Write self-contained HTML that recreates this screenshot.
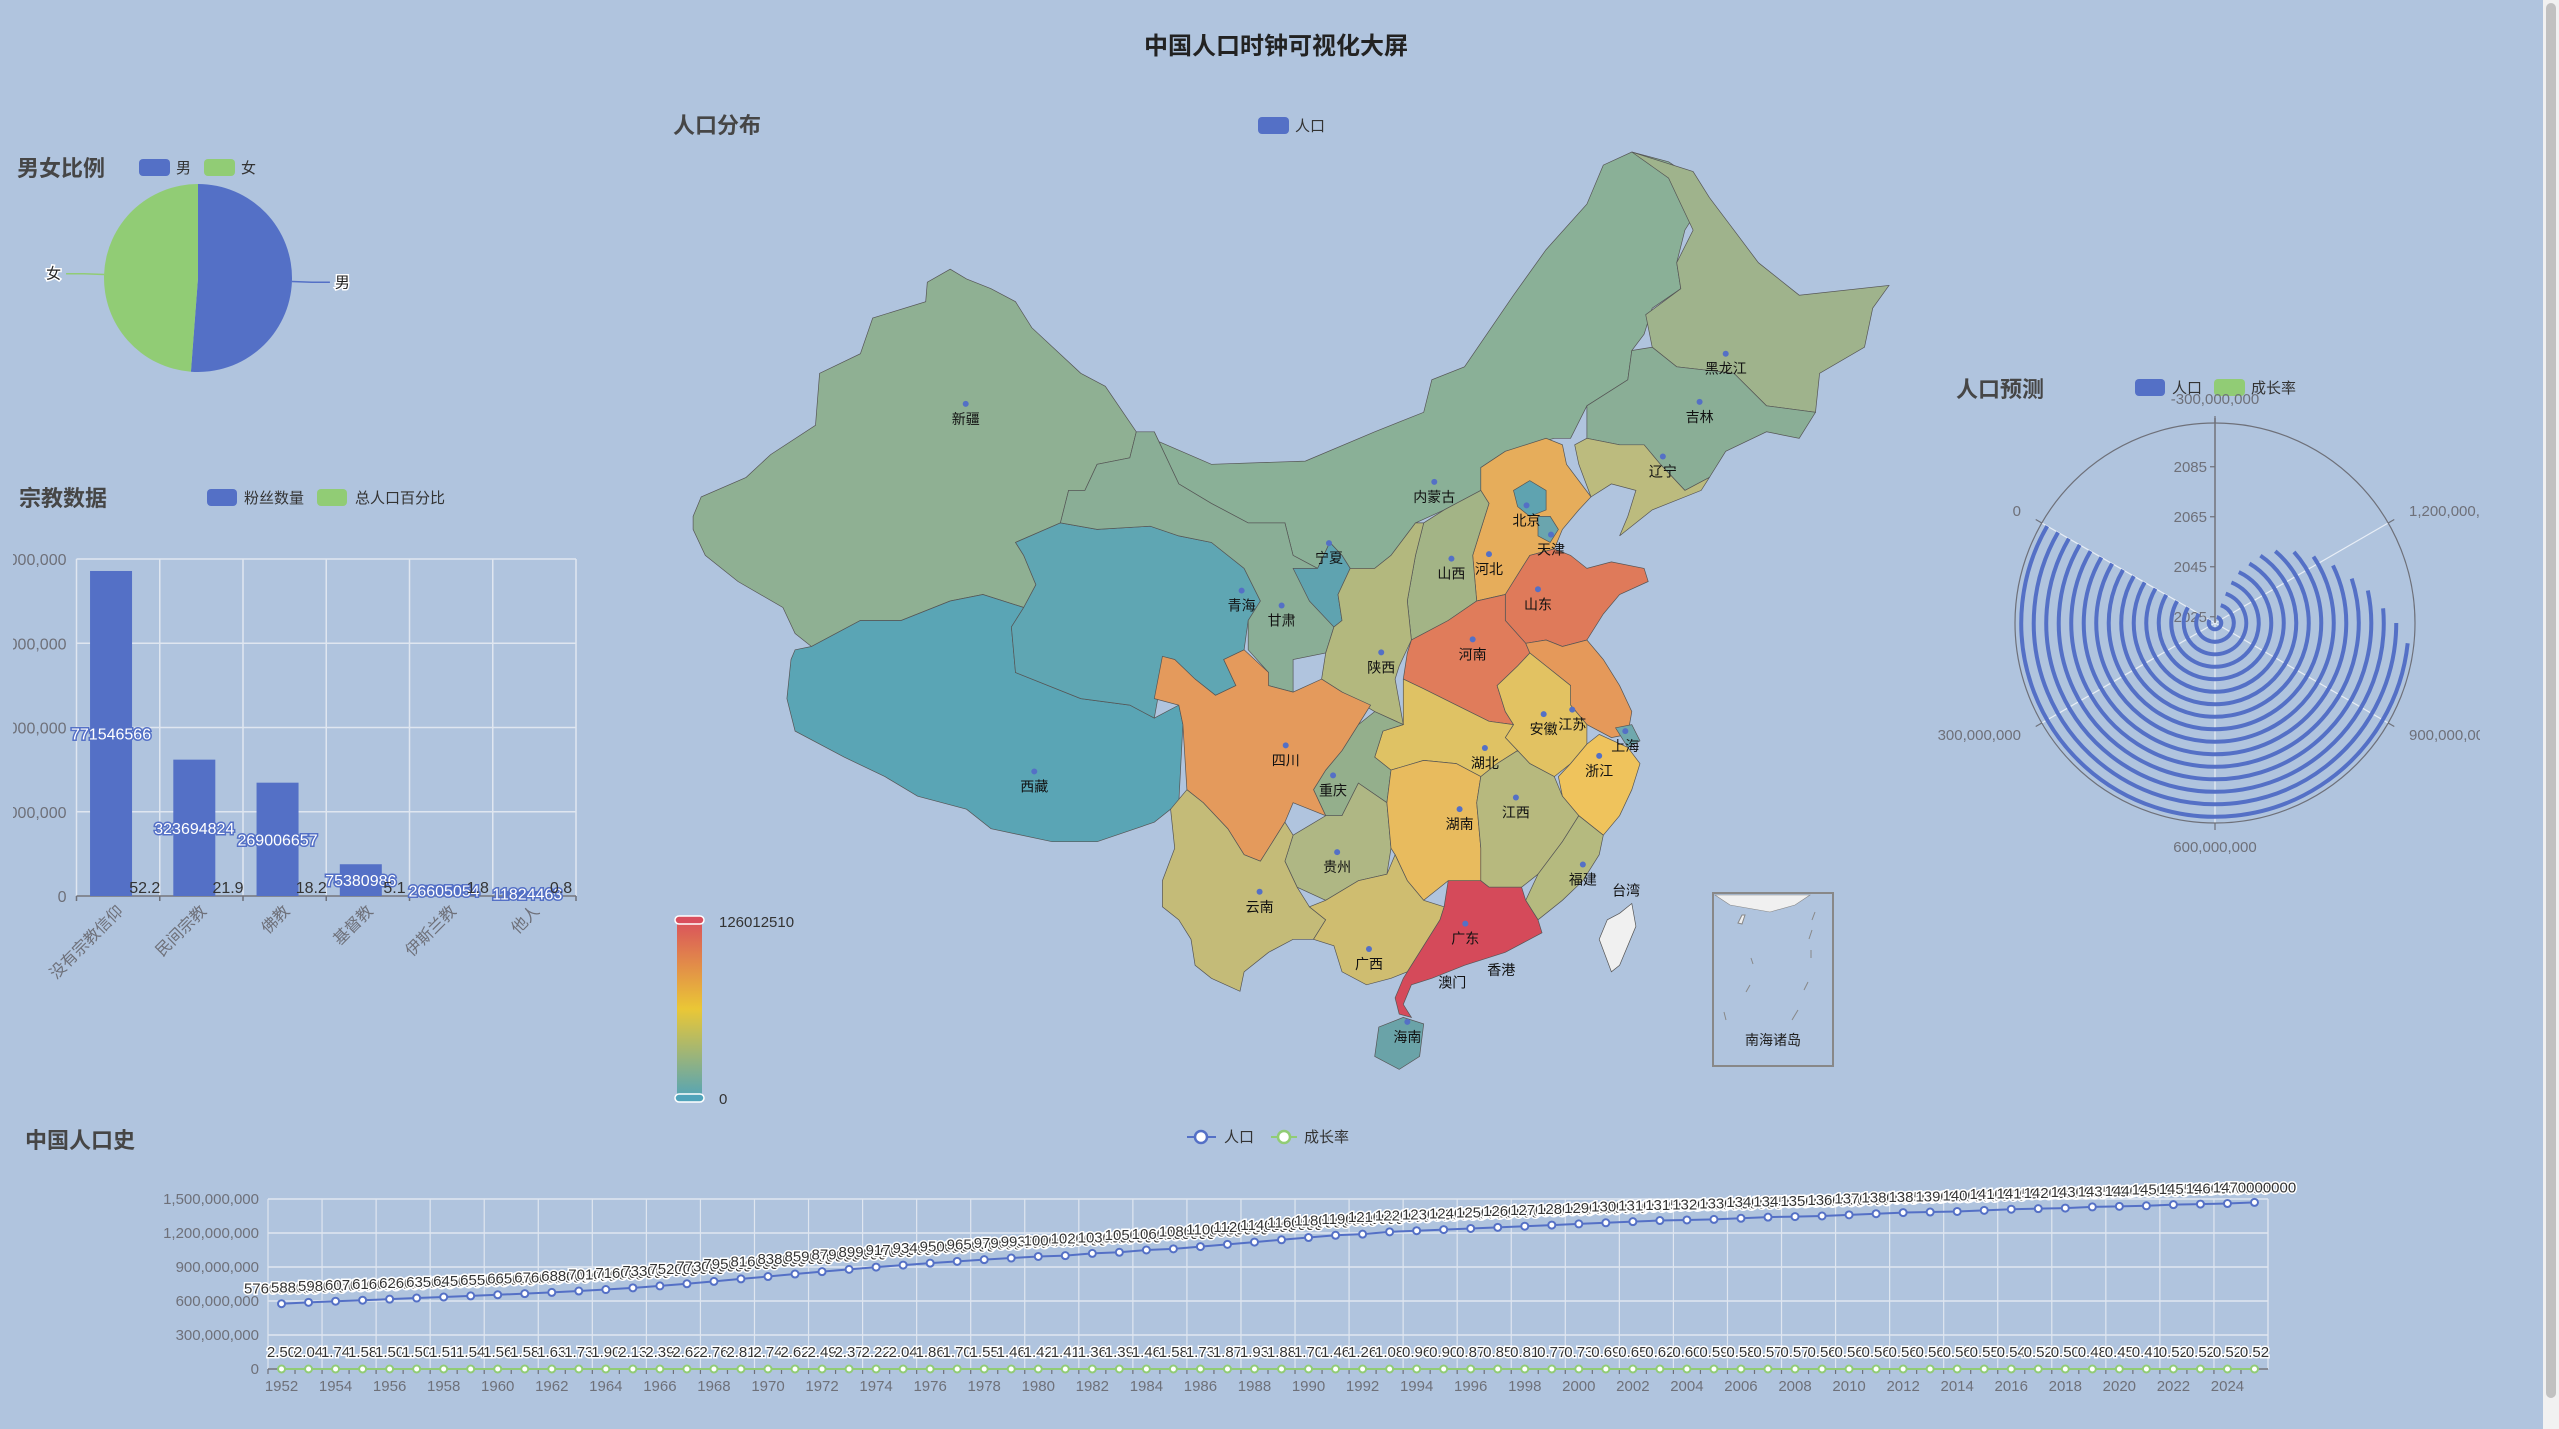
<!DOCTYPE html>
<html><head><meta charset="utf-8">
<style>
html,body{margin:0;padding:0;background:#b0c4de;overflow:hidden;}
svg{display:block;font-family:"Liberation Sans","Noto Sans CJK SC",sans-serif;}
</style></head>
<body>
<svg id="s" width="2559" height="1429" viewBox="0 0 2559 1429" xmlns="http://www.w3.org/2000/svg">
<defs>
<linearGradient id="vm" x1="0" y1="0" x2="0" y2="1">
<stop offset="0" stop-color="#d94e5d"/><stop offset="0.5" stop-color="#eac736"/><stop offset="1" stop-color="#50a3ba"/>
</linearGradient>
<clipPath id="barclip"><rect x="13" y="430" width="620" height="600"/></clipPath>
<clipPath id="polclip"><rect x="1900" y="340" width="580" height="540"/></clipPath>
</defs>
<rect x="0" y="0" width="2559" height="1429" fill="#b0c4de"/>
<text x="1276" y="54" text-anchor="middle" font-size="24" font-weight="bold" fill="#222">中国人口时钟可视化大屏</text>

<!-- pie -->
<g id="pie">
<text x="17" y="176" font-size="22" font-weight="bold" fill="#464646">男女比例</text>
<rect x="139" y="159" width="31" height="17" rx="4" fill="#5470c6"/>
<text x="176" y="173" font-size="15" fill="#333">男</text>
<rect x="204" y="159" width="31" height="17" rx="4" fill="#91cc75"/>
<text x="241" y="173" font-size="15" fill="#333">女</text>
</g>

<!-- bar -->
<g id="bar">
<text x="19" y="506" font-size="22" font-weight="bold" fill="#464646">宗教数据</text>
<rect x="207" y="489" width="30" height="17" rx="4" fill="#5470c6"/>
<text x="244" y="503" font-size="15" fill="#333">粉丝数量</text>
<rect x="317" y="489" width="30" height="17" rx="4" fill="#91cc75"/>
<text x="355" y="503" font-size="15" fill="#333">总人口百分比</text>
<g id="barplot" clip-path="url(#barclip)"></g>
</g>

<!-- map -->
<g id="map">
<text x="673" y="133" font-size="22" font-weight="bold" fill="#464646">人口分布</text>
<rect x="1258" y="117" width="31" height="17" rx="4" fill="#5470c6"/>
<text x="1295" y="131" font-size="15" fill="#333">人口</text>
<g id="provinces"></g>
<g id="maplabels"></g>
<rect x="1713" y="893" width="120" height="173" fill="none" stroke="#888" stroke-width="2"/>
<path d="M1715 895 L1810 895 L1795 905 L1770 912 L1730 905 Z" fill="#f0f0f0" stroke="#888" stroke-width="0.6"/>
<path d="M1738 923 l4 -8 l3 0 l-3 9 Z M1751 958 l2 6 M1815 912 l-3 8 M1812 930 l-3 9 M1811 950 l0 8 M1750 985 l-4 7 M1808 982 l-4 8 M1798 1010 l-6 10 M1724 1012 l2 8" stroke="#888" fill="#f0f0f0" stroke-width="1"/>
<text x="1773" y="1045" font-size="14" text-anchor="middle" fill="#222">南海诸岛</text>
<rect x="677" y="918" width="25" height="182" rx="5" fill="url(#vm)"/>
<rect x="675" y="916" width="29" height="8" rx="4" fill="#d94e5d" stroke="#fff" stroke-width="1.5"/>
<rect x="675" y="1094" width="29" height="8" rx="4" fill="#50a3ba" stroke="#fff" stroke-width="1.5"/>
<text x="719" y="927" font-size="15" fill="#333">126012510</text>
<text x="719" y="1104" font-size="15" fill="#333">0</text>
</g>

<!-- polar -->
<g id="polar">
<text x="1956" y="397" font-size="22" font-weight="bold" fill="#464646">人口预测</text>
<rect x="2135" y="379" width="30" height="17" rx="4" fill="#5470c6"/>
<text x="2172" y="393" font-size="15" fill="#333">人口</text>
<rect x="2214" y="379" width="31" height="17" rx="4" fill="#91cc75"/>
<text x="2251" y="393" font-size="15" fill="#333">成长率</text>
<g id="polarplot" clip-path="url(#polclip)"></g>
</g>

<!-- line -->
<g id="line">
<text x="25" y="1148" font-size="22" font-weight="bold" fill="#464646">中国人口史</text>
<line x1="1187" y1="1137" x2="1216" y2="1137" stroke="#5470c6" stroke-width="2"/>
<circle cx="1201" cy="1137" r="6" fill="#fff" stroke="#5470c6" stroke-width="2.5"/>
<text x="1224" y="1142" font-size="15" fill="#333">人口</text>
<line x1="1271" y1="1137" x2="1297" y2="1137" stroke="#91cc75" stroke-width="2"/>
<circle cx="1284" cy="1137" r="6" fill="#fff" stroke="#91cc75" stroke-width="2.5"/>
<text x="1304" y="1142" font-size="15" fill="#333">成长率</text>
<g id="lineplot"></g>
</g>

<rect x="2543" y="0" width="16" height="1429" fill="#f1f1f1"/>
<rect x="2546" y="3" width="10" height="1395" rx="5" fill="#c1c1c1"/>
</svg>
<script>
var NS="http://www.w3.org/2000/svg";
function mk(tag,parent,attrs){var e=document.createElementNS(NS,tag);for(var k in attrs)e.setAttribute(k,attrs[k]);parent.appendChild(e);return e;}

/* ---------- pie data ---------- */
var pieLabels=['男','女'];
var pieValues=[51.2,48.8];
var pieColors=['#5470c6','#91cc75'];
/* ---------- bar data ---------- */
var barCategories=['没有宗教信仰','民间宗教','佛教','基督教','伊斯兰教','他人'];
var barFans=[771546566,323694824,269006657,75380986,26605054,11824463];
var barPercent=[52.2,21.9,18.2,5.1,1.8,0.8];
var barTicks=[0,200000000,400000000,600000000,800000000];
/* ---------- polar data ---------- */
var polarYears=['2025','2030','2035','2040','2045','2050','2055','2060','2065','2070','2075','2080','2085','2090','2095','2100'];
var polarPop=[1420000000,1410000000,1400000000,1390000000,1375000000,1350000000,1330000000,1300000000,1260000000,1220000000,1180000000,1140000000,1110000000,1075000000,1050000000,1020000000];
var polarAngleTicks=[-300000000,0,300000000,600000000,900000000,1200000000];
/* ---------- line data ---------- */
var lineYears=[];for(var yy=1952;yy<=2025;yy++)lineYears.push(String(yy));
var linePopM=[576,588,598,607,616,626,635,645,655,665,676,688,701,716,733,752,773,795,816,838,859,879,899,917,934,950,965,979,
993,1000,1020,1030,1050,1060,1080,1100,1120,1140,1160,1180,1190,1210,1220,1230,1240,1250,1260,1270,1280,1290,1300,1310,1315,1320,1330,1340,1345,1350,1360,1370,1380,1385,1390,1400,1410,1415,1420,1430,1435,1440,1450,1455,1460,1470];
var lineGrowth=[2.50,2.04,1.74,1.58,1.50,1.50,1.51,1.54,1.56,1.58,1.63,1.73,1.90,2.13,2.39,2.62,2.76,2.81,2.74,2.62,2.49,2.37,2.22,2.04,1.86,1.70,1.55,
1.46,1.42,1.41,1.36,1.39,1.46,1.58,1.73,1.87,1.93,1.88,1.70,1.46,1.26,1.08,0.96,0.90,0.87,0.85,0.81,0.77,0.73,0.69,0.65,0.62,0.60,0.59,0.58,0.57,0.57,0.56,0.56,0.56,0.56,0.56,0.56,0.55,0.54,0.52,0.50,0.48,0.45,0.41,0.52,0.52,0.52,0.52,0.52];
var lineTicks=[0,300000000,600000000,900000000,1200000000,1500000000];

function fmt(n){return String(n).replace(/\B(?=(\d{3})+(?!\d))/g,',');}

/* ===== PIE ===== */
(function(){
var g=document.getElementById('pie');var cx=198,cy=278,r=94;
var tot=pieValues.reduce(function(a,b){return a+b;},0);var a0=0;
for(var i=0;i<pieValues.length;i++){
 var a1=a0+pieValues[i]/tot*2*Math.PI;
 var x0=cx+r*Math.sin(a0),y0=cy-r*Math.cos(a0),x1=cx+r*Math.sin(a1),y1=cy-r*Math.cos(a1);
 var p=mk('path',g,{d:'M'+cx+' '+cy+' L'+x0+' '+y0+' A'+r+' '+r+' 0 '+((a1-a0)>Math.PI?1:0)+' 1 '+x1+' '+y1+' Z',fill:pieColors[i]});
 
 
 var am=(a0+a1)/2,sx=Math.sin(am),cy2=-Math.cos(am);
 var ex=cx+r*sx,ey=cy+r*cy2,lx=cx+(r+20)*sx,ly=cy+(r+20)*cy2,hx=lx+(sx>0?18:-18);
 var ln=mk('polyline',g,{points:ex+','+ey+' '+lx+','+ly+' '+hx+','+ly,fill:'none',stroke:pieColors[i],'stroke-width':1.5});
 
 
 var t=mk('text',g,{x:hx+(sx>0?5:-5),y:ly+5,'font-size':15,fill:'#222','text-anchor':sx>0?'start':'end',stroke:'#fff','stroke-width':3,'paint-order':'stroke'});
 t.textContent=pieLabels[i];
 
 
 a0=a1;}
})();

/* ===== BAR ===== */
(function(){
var g=document.getElementById('barplot');var L=76.5,R=576,T=559,B=896;var max=barTicks[barTicks.length-1];
function y(v){return B-v/max*(B-T);}
var band=(R-L)/barCategories.length;
barTicks.forEach(function(v){
 var gl=mk('line',g,{x1:L,x2:R,y1:y(v),y2:y(v),stroke:'#dfe6f0','stroke-width':1.5});
 
 
 var t=mk('text',g,{x:L-10,y:y(v)+6,'text-anchor':'end','font-size':16,fill:'#6e7079'});t.textContent=fmt(v);
 
 });
for(var i=0;i<=barCategories.length;i++){
 var vl=mk('line',g,{x1:L+i*band,x2:L+i*band,y1:T,y2:B,stroke:'#dfe6f0','stroke-width':1.5});
 
 
 mk('line',g,{x1:L+i*band,x2:L+i*band,y1:B,y2:B+5,stroke:'#6e7079','stroke-width':1.5});}
mk('line',g,{x1:L,x2:R,y1:B,y2:B,stroke:'#6e7079','stroke-width':1.5});
var bw=42;
barCategories.forEach(function(c,i){
 var c1=L+i*band+band*0.415,c2=L+i*band+band*0.82;
 var b=mk('rect',g,{x:c1-bw/2,y:y(barFans[i]),width:bw,height:B-y(barFans[i]),fill:'#5470c6'});
 
 
 var b2=mk('rect',g,{x:c2-bw/2,y:y(barPercent[i]),width:bw,height:Math.max(0,B-y(barPercent[i])),fill:'#91cc75'});
 
 
 var t=mk('text',g,{x:c1,y:(y(barFans[i])+B)/2+6,'text-anchor':'middle','font-size':16,fill:'#fff',stroke:'#5470c6','stroke-width':3,'paint-order':'stroke'});t.textContent=barFans[i];
 
 
 var t2=mk('text',g,{x:c2,y:y(barPercent[i])-3,'text-anchor':'middle','font-size':16,fill:'#333'});t2.textContent=barPercent[i];
 
 
 var cx=L+i*band+band/2;
 var xl=mk('text',g,{x:cx+6,y:B+16,'text-anchor':'end','font-size':16,fill:'#6e7079',transform:'rotate(-45 '+(cx+6)+' '+(B+16)+')'});xl.textContent=c;
 
 });
})();

/* ===== MAP ===== */
var provinces=[
['新疆','#8fb093','65,640 75,610 130,580 160,545 215,500 220,420 270,390 285,335 350,310 352,280 380,260 400,275 430,290 460,310 480,350 540,420 570,440 608,510 600,550 560,560 545,600 525,600 515,650 460,680 470,700 485,745 470,780 420,760 380,770 320,800 270,800 210,840 190,820 175,780 120,740 80,700 65,660'],
['西藏','#5aa5b5','190,845 210,840 270,800 320,800 380,770 420,760 470,780 455,810 460,880 540,920 600,930 630,950 660,930 665,960 660,1080 630,1110 560,1140 505,1140 430,1120 400,1090 340,1070 300,1040 250,1010 190,970 180,920 185,860'],
['内蒙古','#8ab097','608,510 700,560 815,555 900,510 960,480 970,430 1010,410 1070,300 1110,230 1160,160 1180,100 1215,80 1260,95 1290,120 1300,160 1280,200 1270,250 1275,290 1240,320 1230,360 1215,385 1210,430 1160,470 1140,520 1120,520 1060,540 1030,565 1030,600 985,630 950,650 920,700 900,720 870,720 860,700 845,680 830,720 800,700 790,650 770,650 745,650 700,620 660,590 630,510'],
['黑龙江','#9fb38c','1215,80 1290,110 1310,150 1340,200 1370,250 1420,300 1530,285 1510,320 1500,380 1445,420 1440,480 1380,470 1340,420 1270,410 1240,380 1232,330 1275,290 1270,250 1290,200 1275,160 1260,120'],
['吉林','#8aae96','1215,385 1240,380 1270,410 1340,420 1380,470 1440,480 1420,520 1380,510 1330,540 1310,580 1280,600 1250,560 1230,530 1200,530 1160,520 1160,470 1210,430'],
['辽宁','#bcbb7e','1160,520 1200,530 1230,530 1250,560 1280,600 1310,580 1300,600 1240,630 1200,670 1210,640 1220,600 1190,590 1165,610 1150,560 1145,530'],
['青海','#5fa6b3','470,780 485,745 470,700 460,680 515,650 560,660 625,655 660,670 700,680 740,720 760,770 745,800 740,845 715,860 730,900 705,915 680,890 640,880 630,950 600,930 540,920 460,880 455,810'],
['甘肃','#8aae96','515,650 525,600 545,600 560,560 600,550 608,510 630,510 660,590 700,620 745,650 770,650 790,650 800,700 830,720 860,800 850,810 840,850 800,860 800,910 770,900 770,880 745,845 745,800 760,770 740,720 700,680 660,670 625,655 560,660'],
['宁夏','#5fa3b0','830,720 845,680 860,700 870,720 855,760 860,800 850,810 820,770 800,720'],
['河北','#e6ad5b','1030,565 1060,540 1110,520 1130,530 1135,560 1165,610 1150,630 1130,660 1120,690 1090,700 1080,720 1060,760 1025,770 1020,700 1030,660 1040,620 1030,600'],
['北京','#5fa3b0','1070,600 1090,585 1110,600 1110,630 1090,640 1075,625'],
['天津','#6aa5ae','1100,640 1115,640 1125,660 1115,680 1100,670'],
['山西','#a3b486','985,630 1030,600 1040,620 1030,660 1020,700 1025,770 990,800 945,830 940,770 950,700 960,650'],
['陕西','#b3b87e','900,720 920,700 950,650 960,650 950,700 940,770 945,830 930,870 925,890 935,960 900,940 860,910 835,890 840,850 850,810 860,800 855,760 870,720'],
['山东','#df7a5a','1060,760 1080,720 1090,700 1120,690 1140,700 1160,720 1190,710 1230,720 1235,740 1200,760 1180,790 1160,830 1130,840 1110,830 1085,835 1060,800'],
['河南','#e07c5b','945,830 990,800 1025,770 1060,760 1060,800 1085,835 1090,850 1075,870 1050,900 1060,940 1070,960 1040,955 1000,930 960,905 935,890 940,850'],
['江苏','#e5995a','1085,835 1110,830 1130,840 1160,830 1180,860 1200,900 1215,940 1210,975 1190,980 1160,960 1140,930 1140,900 1110,870 1090,850'],
['安徽','#e2c262','1075,870 1090,850 1110,870 1140,900 1140,930 1160,960 1160,990 1140,1020 1120,1040 1090,1020 1075,1000 1060,980 1070,960 1060,940 1050,900'],
['上海','#6fa8ad','1195,965 1215,960 1225,985 1210,995'],
['浙江','#efc35c','1140,1020 1160,990 1175,975 1210,995 1225,1020 1215,1060 1200,1100 1180,1130 1150,1100 1130,1070 1125,1040'],
['湖北','#dfc264','935,890 960,905 1000,930 1040,955 1070,960 1060,980 1075,1000 1050,1020 1030,1040 1000,1020 960,1015 920,1030 900,1010 910,970 935,960'],
['重庆','#94af8c','860,1000 880,960 900,940 935,960 910,970 900,1010 920,1030 915,1080 880,1050 860,1100 840,1100 825,1060 840,1030'],
['四川','#e49a5c','640,855 655,860 680,890 705,915 730,900 715,860 740,845 770,880 770,900 800,910 835,890 860,910 895,930 880,960 860,1000 840,1030 825,1060 840,1100 800,1080 790,1110 775,1140 760,1170 740,1160 720,1120 690,1080 670,1060 665,960 660,930 630,920'],
['贵州','#afb784','800,1130 840,1100 860,1100 880,1050 915,1080 920,1150 915,1190 880,1200 840,1230 805,1210 790,1170'],
['云南','#c4bb78','650,1090 670,1060 690,1080 720,1120 740,1160 760,1170 775,1140 790,1110 800,1130 790,1170 805,1210 820,1240 840,1260 825,1290 800,1290 770,1310 740,1340 735,1370 700,1350 680,1330 675,1290 660,1260 640,1240 640,1200 655,1150'],
['湖南','#e8bb5e','920,1030 960,1015 1000,1020 1030,1040 1025,1080 1030,1150 1030,1200 990,1200 960,1230 940,1200 925,1160 920,1150 915,1080'],
['江西','#b7b97e','1030,1040 1050,1020 1075,1000 1090,1020 1120,1040 1130,1070 1150,1100 1130,1140 1100,1190 1080,1210 1040,1210 1030,1200 1030,1150 1025,1080'],
['福建','#b5ba7f','1100,1190 1130,1140 1150,1100 1180,1130 1175,1160 1155,1200 1130,1230 1100,1260 1085,1230'],
['广西','#cfbd70','820,1240 840,1230 880,1200 915,1190 925,1160 940,1200 960,1230 985,1240 980,1260 960,1300 940,1340 920,1350 890,1360 860,1340 850,1300 825,1290 840,1260'],
['广东','#d54a5a','985,1240 990,1200 1030,1200 1040,1210 1080,1210 1085,1230 1100,1260 1105,1280 1060,1310 1010,1330 970,1350 945,1360 935,1390 945,1410 930,1405 925,1380 935,1350 960,1300 980,1260'],
['海南','#6aa3a8','905,1425 935,1410 960,1420 955,1470 930,1490 900,1470'],
['台湾','#f0f0f0','1200,1250 1215,1235 1220,1270 1200,1330 1190,1340 1175,1290 1185,1260']
];
var mapLabels=[['新疆',399,467,1],['西藏',483,1032,1],['青海',737,754,1],['甘肃',786,777,1],['宁夏',844,681,1],['内蒙古',973,587,1],['黑龙江',1330,390,1],['吉林',1298,464,1],['辽宁',1253,548,1],['北京',1086,623,1],['天津',1116,668,1],['河北',1040,698,1],['山西',994,705,1],['山东',1100,752,1],['河南',1020,829,1],['陕西',908,849,1],['安徽',1107,944,1],['江苏',1142,937,1],['上海',1207,970,1],['湖北',1035,996,1],['四川',791,992,1],['重庆',849,1038,1],['浙江',1175,1008,1],['湖南',1004,1090,1],['江西',1073,1072,1],['贵州',854,1156,1],['福建',1155,1175,1],['台湾',1208,1192,0],['云南',759,1217,1],['广西',893,1305,1],['广东',1011,1266,1],['香港',1055,1314,0],['澳门',995,1333,0],['海南',940,1417,1]];
(function(){
function X(z){return 640+z/1.225;}function Y(z){return 100+z/1.537;}
var g=document.getElementById('provinces');
provinces.forEach(function(p){
 var pts=p[2].split(' ').map(function(s){var a=s.split(',');return X(+a[0]).toFixed(1)+','+Y(+a[1]).toFixed(1);}).join(' ');
 var el=mk('polygon',g,{points:pts,fill:p[1],stroke:'#555','stroke-width':0.7});
 
 });
var lg=document.getElementById('maplabels');
mapLabels.forEach(function(l){
 var x=X(l[1]),y=Y(l[2]);
 if(l[3]){var d=mk('circle',lg,{cx:x,cy:y,r:3,fill:'#5470c6'});
  
  }
 var t=mk('text',lg,{x:x,y:y+20,'text-anchor':'middle','font-size':14,fill:'#111'});t.textContent=l[0];
 
 });
})();

/* ===== POLAR ===== */
(function(){
var g=document.getElementById('polarplot');var cx=2215,cy=623,R=200;var vmin=-300000000,vspan=1800000000;
function ang(v){return (v-vmin)/vspan*2*Math.PI;} // ccw from top
function pt(r,a){return [cx-r*Math.sin(a),cy-r*Math.cos(a)];}
var band=R/polarYears.length;
polarAngleTicks.forEach(function(v){
 var a=ang(v),p=pt(R,a),q=pt(R+7,a),lp=pt(R+24,a);
 var sl=mk('line',g,{x1:cx,y1:cy,x2:p[0],y2:p[1],stroke:'#e8eef6','stroke-width':1.2});
 
 
 mk('line',g,{x1:p[0],y1:p[1],x2:q[0],y2:q[1],stroke:'#6e7079','stroke-width':1.2});
 var s=Math.sin(a);var anchor=Math.abs(s)<0.1?'middle':(s>0?'end':'start');
 var t=mk('text',g,{x:lp[0],y:lp[1]+5,'text-anchor':anchor,'font-size':15,fill:'#6e7079'});t.textContent=fmt(v);
 
 });
var c=mk('circle',g,{cx:cx,cy:cy,r:R,fill:'none',stroke:'#6e7079','stroke-width':1.2});


mk('line',g,{x1:cx,y1:cy,x2:cx,y2:cy-R-5,stroke:'#6e7079','stroke-width':1.5});
polarYears.forEach(function(yr,i){
 var r=(i+0.5)*band;var a0=ang(0),a1=ang(polarPop[i]);
 var p0=pt(r,a0),p1=pt(r,a1);
 var arc=mk('path',g,{d:'M'+p0[0]+' '+p0[1]+' A'+r+' '+r+' 0 '+((a1-a0)>Math.PI?1:0)+' 0 '+p1[0]+' '+p1[1],fill:'none',stroke:'#5470c6','stroke-width':4});
 
 
 if(i%4===0){
  mk('line',g,{x1:cx,y1:cy-r,x2:cx-5,y2:cy-r,stroke:'#6e7079','stroke-width':1.2});
  var t=mk('text',g,{x:cx-8,y:cy-r+5,'text-anchor':'end','font-size':15,fill:'#6e7079'});t.textContent=yr;
  
  }});
})();

/* ===== LINE ===== */
(function(){
var g=document.getElementById('lineplot');var L=268,R=2268,T=1199,B=1369;var max=lineTicks[lineTicks.length-1];
var n=lineYears.length,band=(R-L)/n;
function x(i){return L+(i+0.5)*band;}function y(v){return B-v/max*(B-T);}
lineTicks.forEach(function(v){
 var gl=mk('line',g,{x1:L,x2:R,y1:y(v),y2:y(v),stroke:'#dfe6f0','stroke-width':1.5});
 
 
 var t=mk('text',g,{x:L-9,y:y(v)+5,'text-anchor':'end','font-size':15,fill:'#6e7079'});t.textContent=fmt(v);
 
 });
for(var i=0;i<=n;i+=2){
 var vl=mk('line',g,{x1:L+i*band,x2:L+i*band,y1:T,y2:B,stroke:'#dfe6f0','stroke-width':1.2});
 
 }
mk('line',g,{x1:R,x2:R,y1:T,y2:B,stroke:'#dfe6f0','stroke-width':1.2});
mk('line',g,{x1:L,x2:R,y1:B,y2:B,stroke:'#6e7079','stroke-width':1.5});
for(var i=0;i<n;i++){
 mk('line',g,{x1:L+i*band,x2:L+i*band,y1:B,y2:B+5,stroke:'#6e7079','stroke-width':1.2});
 if(i%2===0){var t=mk('text',g,{x:x(i),y:B+22,'text-anchor':'middle','font-size':15,fill:'#6e7079'});t.textContent=lineYears[i];
  
  }}
var pp=[],gp=[];
for(var i=0;i<n;i++){pp.push(x(i)+','+y(linePopM[i]*1e6));gp.push(x(i)+','+y(lineGrowth[i]));}
var l1=mk('polyline',g,{points:pp.join(' '),fill:'none',stroke:'#5470c6','stroke-width':2});


var l2=mk('polyline',g,{points:gp.join(' '),fill:'none',stroke:'#91cc75','stroke-width':2});


for(var i=0;i<n;i++){
 var c=mk('circle',g,{cx:x(i),cy:y(linePopM[i]*1e6),r:3.5,fill:'#fff',stroke:'#5470c6','stroke-width':2});
 
 
 var c2=mk('circle',g,{cx:x(i),cy:y(lineGrowth[i]),r:3.5,fill:'#fff',stroke:'#91cc75','stroke-width':2});
 
 }
for(var i=0;i<n;i++){
 var t=mk('text',g,{x:x(i),y:y(linePopM[i]*1e6)-10,'text-anchor':'middle','font-size':15,fill:'#333',stroke:'#fff','stroke-width':3,'paint-order':'stroke'});t.textContent=String(linePopM[i]*1000000);
 
 
 var t2=mk('text',g,{x:x(i),y:y(lineGrowth[i])-12,'text-anchor':'middle','font-size':15,fill:'#333',stroke:'#fff','stroke-width':3,'paint-order':'stroke'});t2.textContent=lineGrowth[i].toFixed(2);
 
 }
})();
</script>
</body></html>
